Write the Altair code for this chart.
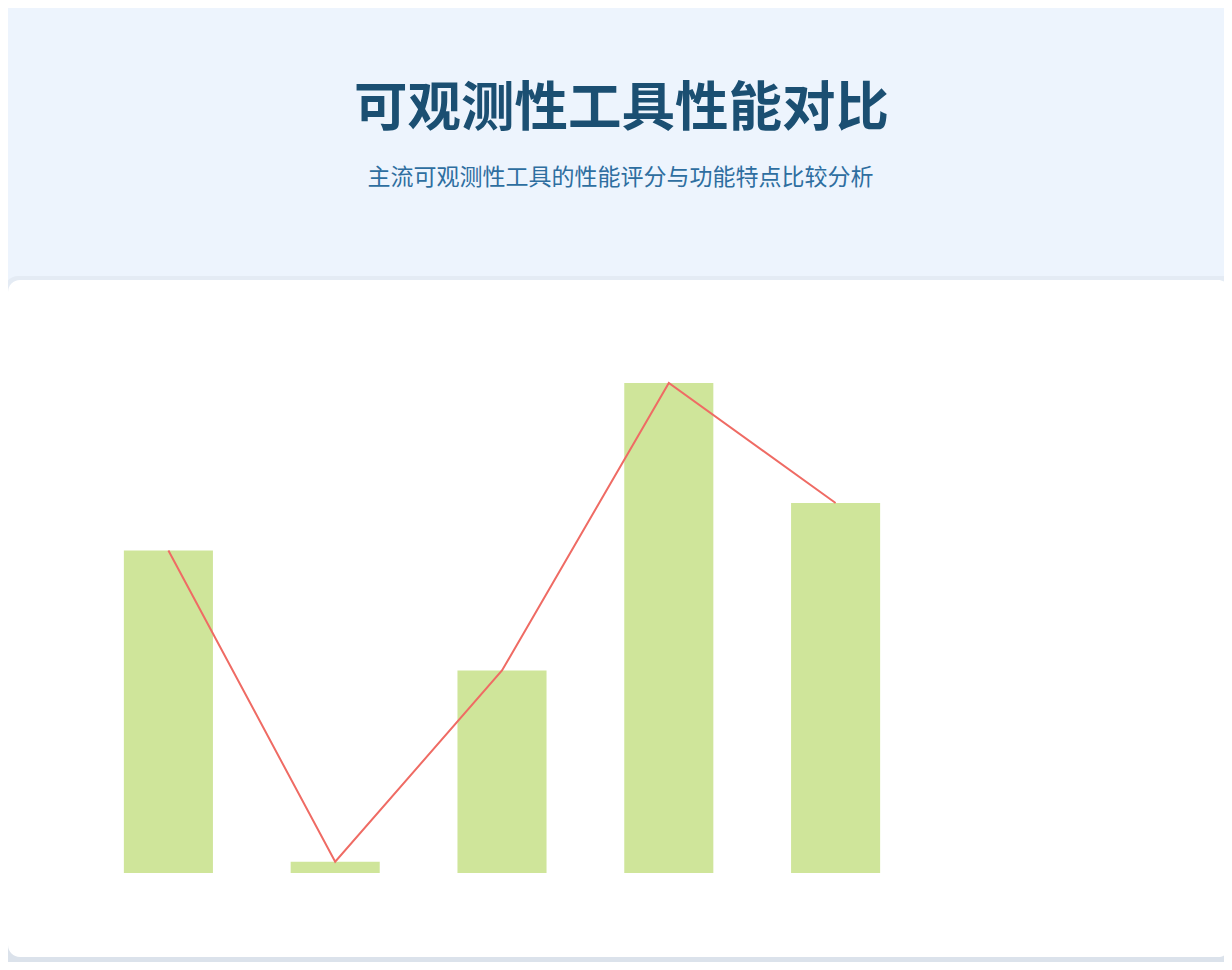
import altair as alt
import pandas as pd

# ---- data ----
tools = ["Prometheus", "Zabbix", "Jaeger", "Datadog", "Grafana"]
scores = [85.8, 60.9, 76.2, 99.2, 89.6]

title_text = "可观测性工具性能对比"
subtitle_text = "主流可观测性工具的性能评分与功能特点比较分析"

df = pd.DataFrame({"tool": tools, "score": scores})

W, H = 1216, 954
FONT = "Noto Sans CJK SC"

x_enc = alt.X("tool:N", sort=tools, axis=None,
              scale=alt.Scale(range=[77, 911], paddingInner=0.466, paddingOuter=0.233))
y_scale = alt.Scale(domain=[60, 100], range=[865, 365], zero=False)

one = pd.DataFrame({"k": [0]})

shadow_soft = alt.Chart(one).mark_rect(cornerRadius=14, color="#e4ebf4").encode(
    x=alt.value(-4), x2=alt.value(W + 20), y=alt.value(268), y2=alt.value(H + 10)
)
shadow = alt.Chart(one).mark_rect(cornerRadius=12, color="#dbe2eb").encode(
    x=alt.value(-2), x2=alt.value(W + 20), y=alt.value(276), y2=alt.value(H + 10)
)
card = alt.Chart(one).mark_rect(cornerRadius=12, color="#ffffff").encode(
    x=alt.value(0), x2=alt.value(W + 6), y=alt.value(272), y2=alt.value(949)
)

bars = alt.Chart(df).mark_bar(color="#cfe59a").encode(
    x=x_enc,
    y=alt.Y("score:Q", scale=y_scale, axis=None),
    y2=alt.datum(60),
)

line = alt.Chart(df).mark_line(color="#ef6b64", strokeWidth=2).encode(
    x=x_enc,
    y=alt.Y("score:Q", scale=y_scale, axis=None),
)

title = alt.Chart(pd.DataFrame({"t": [title_text]})).mark_text(
    font=FONT, fontSize=53.5, fontWeight="bold", color="#1b4f72",
    align="center", baseline="alphabetic"
).encode(text="t:N", x=alt.value(613.5), y=alt.value(118))

subtitle = alt.Chart(pd.DataFrame({"t": [subtitle_text]})).mark_text(
    font=FONT, fontSize=23, color="#2e6ea0",
    align="center", baseline="alphabetic"
).encode(text="t:N", x=alt.value(612.5), y=alt.value(176.5))

chart = alt.layer(shadow_soft, shadow, card, bars, line, title, subtitle).properties(
    width=W, height=H, background="#edf4fd",
    autosize=alt.AutoSizeParams(type="none"), padding=0,
).configure_view(stroke=None)

chart.save("out.html", embed_options={"renderer": "svg", "actions": False})
